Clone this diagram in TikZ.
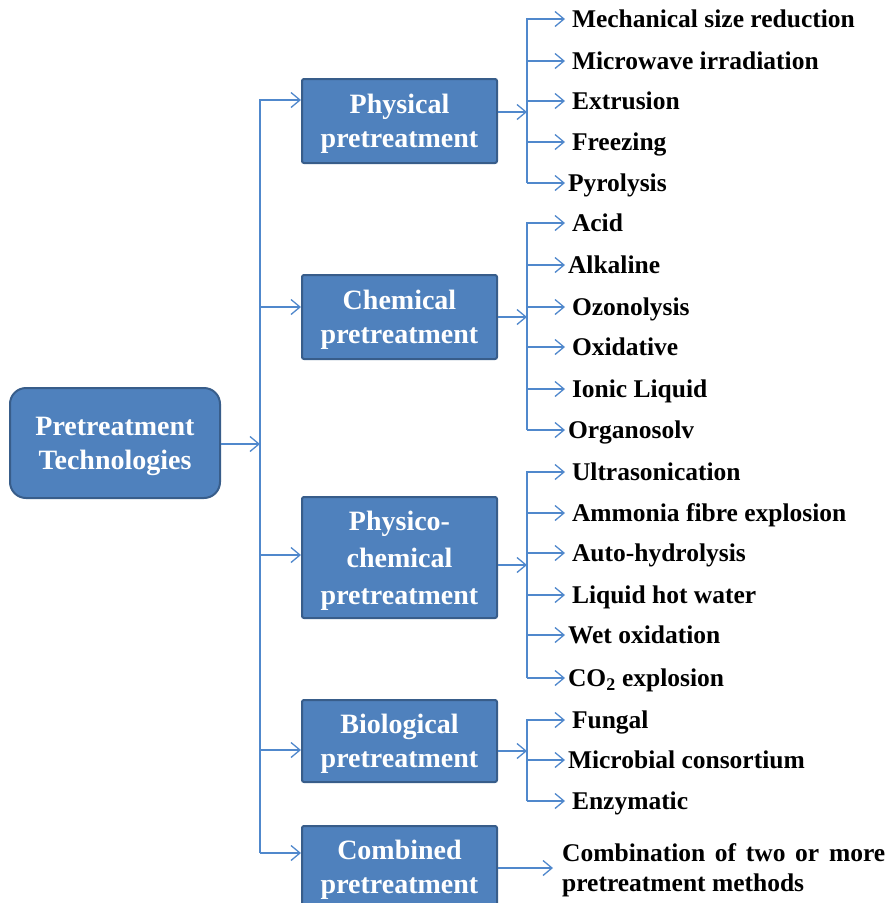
\documentclass[tikz,border=0pt]{standalone}
\usepackage{fontspec}
\setmainfont{Liberation Serif}
\usepackage{tikz}
\usetikzlibrary{arrows.meta}

\definecolor{boxblue}{HTML}{4F81BD}
\definecolor{boxedge}{HTML}{385D8A}
\definecolor{lineblue}{HTML}{5088CC}

\tikzset{
  catbox/.style={draw=boxedge, line width=2pt, fill=boxblue, text=white, align=center,
    font=\fontsize{28}{34}\selectfont\bfseries, minimum width=195pt, rounded corners=2pt,
    inner sep=0pt, text depth=0pt},
  mainbox/.style={catbox, rounded corners=16pt, minimum width=210pt, minimum height=110pt},
  item/.style={anchor=west, outer sep=0pt, inner ysep=0pt, inner xsep=7pt,
    font=\fontsize{25.5}{30}\selectfont\bfseries, text height=20pt, text depth=3pt},
  tightitem/.style={item, inner xsep=3pt},
  arr/.style={draw=lineblue, line width=1.3pt, -{Straight Barb[length=9pt,width=15pt]}}
}

\begin{document}
\begin{tikzpicture}[x=1pt,y=-1pt]
	\useasboundingbox (0,0) rectangle (890,903);
	\node [mainbox] (tech) at (115,443) {Pretreatment\\Technologies};
	\node [catbox, minimum height=84pt] (phys) at (399.5,121) {Physical\\pretreatment};
	\node [catbox, minimum height=84pt] (chem) at (399.5,317) {Chemical\\pretreatment};
	\node [catbox, minimum height=121pt, font=\fontsize{28}{37}\selectfont\bfseries] (phch) at (399.5,557.5) {Physico-\\chemical\\pretreatment};
	\node [catbox, minimum height=82pt] (bio) at (399.5,741) {Biological\\pretreatment};
	\node [catbox, minimum height=82pt] (comb) at (399.5,867) {Combined\\pretreatment};
	\coordinate (t0) at (260,444);
	\coordinate (t1) at (260,100);
	\coordinate (t2) at (260,307);
	\coordinate (t3) at (260,555);
	\coordinate (t4) at (260,750);
	\coordinate (t5) at (260,853);
	\draw [arr] (tech.east |- t0) -- (t0);
	\draw [arr] (t5) -- (t1) -- (t1 -| phys.west);
	\draw [arr] (t2) -- (t2 -| chem.west);
	\draw [arr] (t3) -- (t3 -| phch.west);
	\draw [arr] (t4) -- (t4 -| bio.west);
	\draw [arr] (t5) -- (t5 -| comb.west);
	\coordinate (pb) at (527,112);
	\coordinate (p1) at (527,19);
	\coordinate (p2) at (527,61);
	\coordinate (p3) at (527,101);
	\coordinate (p4) at (527,142);
	\coordinate (p5) at (527,183);
	\node [item] (pi1) at (565,19) {Mechanical size reduction};
	\node [item] (pi2) at (565,61) {Microwave irradiation};
	\node [item] (pi3) at (565,101) {Extrusion};
	\node [item] (pi4) at (565,142) {Freezing};
	\node [tightitem] (pi5) at (565,183) {Pyrolysis};
	\draw [arr] (pb -| phys.east) -- (pb);
	\draw [arr] (p5) -- (p1) -- (pi1.west);
	\draw [arr] (p2) -- (pi2.west);
	\draw [arr] (p3) -- (pi3.west);
	\draw [arr] (p4) -- (pi4.west);
	\draw [arr] (p5) -- (pi5.west);
	\coordinate (cb) at (527,317);
	\coordinate (c1) at (527,223);
	\coordinate (c2) at (527,265);
	\coordinate (c3) at (527,307);
	\coordinate (c4) at (527,347);
	\coordinate (c5) at (527,389);
	\coordinate (c6) at (527,430);
	\node [item] (ci1) at (565,223) {Acid};
	\node [tightitem] (ci2) at (565,265) {Alkaline};
	\node [item] (ci3) at (565,307) {Ozonolysis};
	\node [item] (ci4) at (565,347) {Oxidative};
	\node [item] (ci5) at (565,389) {Ionic Liquid};
	\node [tightitem] (ci6) at (565,430) {Organosolv};
	\draw [arr] (cb -| chem.east) -- (cb);
	\draw [arr] (c6) -- (c1) -- (ci1.west);
	\draw [arr] (c2) -- (ci2.west);
	\draw [arr] (c3) -- (ci3.west);
	\draw [arr] (c4) -- (ci4.west);
	\draw [arr] (c5) -- (ci5.west);
	\draw [arr] (c6) -- (ci6.west);
	\coordinate (xb) at (527,565);
	\coordinate (x1) at (527,472);
	\coordinate (x2) at (527,513);
	\coordinate (x3) at (527,553);
	\coordinate (x4) at (527,595);
	\coordinate (x5) at (527,635);
	\coordinate (x6) at (527,678);
	\node [item] (xi1) at (565,472) {Ultrasonication};
	\node [item] (xi2) at (565,513) {Ammonia fibre explosion};
	\node [item] (xi3) at (565,553) {Auto-hydrolysis};
	\node [item] (xi4) at (565,595) {Liquid hot water};
	\node [tightitem] (xi5) at (565,635) {Wet oxidation};
	\node [tightitem] (xi6) at (565,678) {CO\textsubscript{2} explosion};
	\draw [arr] (xb -| phch.east) -- (xb);
	\draw [arr] (x6) -- (x1) -- (xi1.west);
	\draw [arr] (x2) -- (xi2.west);
	\draw [arr] (x3) -- (xi3.west);
	\draw [arr] (x4) -- (xi4.west);
	\draw [arr] (x5) -- (xi5.west);
	\draw [arr] (x6) -- (xi6.west);
	\coordinate (bb) at (527,751);
	\coordinate (b1) at (527,720);
	\coordinate (b2) at (527,760);
	\coordinate (b3) at (527,801);
	\node [item] (bi1) at (565,720) {Fungal};
	\node [tightitem] (bi2) at (565,760) {Microbial consortium};
	\node [item] (bi3) at (565,801) {Enzymatic};
	\draw [arr] (bb -| bio.east) -- (bb);
	\draw [arr] (b3) -- (b1) -- (bi1.west);
	\draw [arr] (b2) -- (bi2.west);
	\draw [arr] (b3) -- (bi3.west);
	\coordinate (mb) at (553,868);
	\node [anchor=west, inner sep=0pt, text width=323pt, align=justify, font=\fontsize{25.5}{30}\selectfont\bfseries] (ci) at (562,870) {Combination of two or more pretreatment methods};
	\draw [arr] (mb -| comb.east) -- (mb);
\end{tikzpicture}
\end{document}
